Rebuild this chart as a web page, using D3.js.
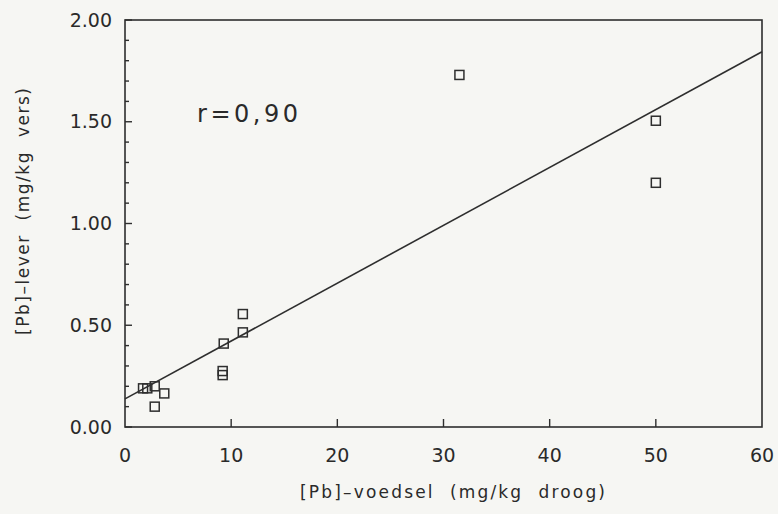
<!DOCTYPE html>
<html>
<head>
<meta charset="utf-8">
<script src="https://cdn.jsdelivr.net/npm/d3@7"></script>
<style>
  body { margin: 0; background: #f6f6f3; }
  svg { display: block; }
  text { font-family: "DejaVu Sans", sans-serif; fill: #2a2a2a; }
</style>
</head>
<body>
<div id="chart"></div>
<script>
/**
 * DATA
 * */
const voedsel = [1.7, 2.1, 2.8, 3.7, 2.8, 9.3, 9.2, 9.2, 11.1, 11.1, 31.5, 50.0, 50.0];
const lever   = [0.19, 0.19, 0.20, 0.165, 0.10, 0.41, 0.275, 0.255, 0.465, 0.555, 1.73, 1.505, 1.20];
const xTicks = [0, 10, 20, 30, 40, 50, 60];
const yTicks = [0, 0.5, 1.0, 1.5, 2.0];
const yMinor = d3.range(0, 2.0001, 0.1);
// regression line end values
const lineX = [0, 60];
const lineY = [0.138, 1.844];
const rLabel = "r=0,90";

const width = 778, height = 514;
const margin = { top: 20, right: 16, bottom: 87, left: 125 };

const svg = d3.select("#chart").append("svg")
  .attr("width", width)
  .attr("height", height);

const x = d3.scaleLinear().domain([0, 60]).range([margin.left, width - margin.right]);
const y = d3.scaleLinear().domain([0, 2]).range([height - margin.bottom, margin.top]);

const ink = "#2e2e2e";

// frame
svg.append("rect")
  .attr("x", x(0)).attr("y", y(2))
  .attr("width", x(60) - x(0)).attr("height", y(0) - y(2))
  .attr("fill", "none").attr("stroke", ink).attr("stroke-width", 1.6);

// y ticks, longer at the labelled ones
svg.append("g").selectAll("line")
  .data(yMinor)
  .join("line")
  .attr("x1", x(0)).attr("x2", d => x(0) + (Math.abs(d * 2 - Math.round(d * 2)) < 1e-6 ? 7 : 4))
  .attr("y1", d => y(d)).attr("y2", d => y(d))
  .attr("stroke", ink).attr("stroke-width", 1.4);

// y labels
svg.append("g").selectAll("text")
  .data(yTicks)
  .join("text")
  .attr("x", x(0) - 13)
  .attr("y", d => y(d) + 6.5)
  .attr("text-anchor", "end")
  .style("font-size", "19px")
  .text(d => d.toFixed(2));

// x ticks
svg.append("g").selectAll("line")
  .data(xTicks.slice(1, -1))
  .join("line")
  .attr("x1", d => x(d)).attr("x2", d => x(d))
  .attr("y1", y(0)).attr("y2", y(0) - 8)
  .attr("stroke", ink).attr("stroke-width", 1.4);

svg.append("g").selectAll("text")
  .data(xTicks)
  .join("text")
  .attr("x", d => x(d))
  .attr("y", y(0) + 35)
  .attr("text-anchor", "middle")
  .style("font-size", "19px")
  .text(d => d);

// regression line
svg.append("line")
  .attr("x1", x(lineX[0])).attr("y1", y(lineY[0]))
  .attr("x2", x(lineX[1])).attr("y2", y(lineY[1]))
  .attr("stroke", ink).attr("stroke-width", 1.6);

// points
svg.append("g").selectAll("rect")
  .data(voedsel.map((v, i) => [v, lever[i]]))
  .join("rect")
  .attr("x", d => x(d[0]) - 4.5)
  .attr("y", d => y(d[1]) - 4.5)
  .attr("width", 9).attr("height", 9)
  .attr("fill", "none").attr("stroke", ink).attr("stroke-width", 1.5);

// r label
svg.append("text")
  .attr("x", 197).attr("y", 122)
  .attr("textLength", 101)
  .style("font-size", "24px")
  .text(rLabel);

// axis titles
svg.append("text")
  .attr("x", 300).attr("y", 498)
  .attr("textLength", 305)
  .style("font-size", "17px")
  .style("white-space", "pre")
  .text("[Pb]–voedsel  (mg/kg  droog)");

svg.append("text")
  .attr("transform", "translate(29,335) rotate(-90)")
  .attr("textLength", 247)
  .style("font-size", "17px")
  .style("white-space", "pre")
  .text("[Pb]–lever  (mg/kg  vers)");
</script>
</body>
</html>
